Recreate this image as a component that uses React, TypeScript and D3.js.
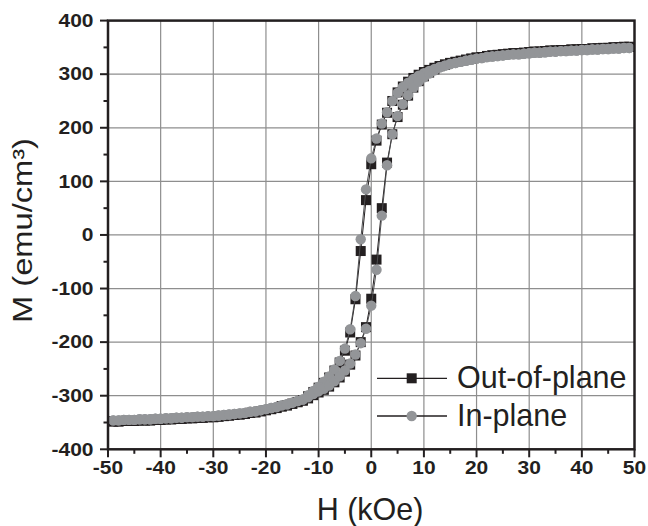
import React from 'react'
import * as d3 from 'd3'

// applied field H (kOe): negative tail, loop core, positive tail
const hNeg = [-49, -48, -47, -46, -45, -44, -43, -42, -41, -40, -39, -38, -37, -36, -35, -34, -33, -32, -31, -30, -29, -28, -27, -26, -25, -24, -23, -22, -21, -20, -19, -18, -17, -16, -15, -14, -13]
const hCore = [-12, -11, -10, -9, -8, -7, -6, -5, -4, -3, -2, -1, 0, 1, 2, 3, 4, 5, 6, 7, 8, 9, 10, 11, 12]
const hPos = [13, 14, 15, 16, 17, 18, 19, 20, 21, 22, 23, 24, 25, 26, 27, 28, 29, 30, 31, 32, 33, 34, 35, 36, 37, 38, 39, 40, 41, 42, 43, 44, 45, 46, 47, 48, 49]

// out-of-plane M (emu/cm3)
const oopTailNeg = [-348, -348, -347, -347, -347, -346, -346, -346, -345, -345, -344, -344, -343, -343, -342, -342, -341, -341, -340, -340, -339, -338, -337, -336, -335, -334, -332, -331, -329, -327, -325, -323, -320, -318, -315, -312, -309]
const oopDown = [-301, -293, -285, -276, -266, -253, -238, -216, -182, -120, -30, 65, 132, 176, 206, 228, 250, 266, 277, 286, 293, 299, 304, 308, 312]
const oopUp = [-305, -299, -294, -289, -283, -275, -266, -255, -242, -225, -200, -172, -119, -46, 50, 135, 188, 220, 243, 260, 275, 287, 296, 303, 309]
const oopTailPos = [315, 318, 321, 323, 325, 327, 329, 331, 332, 334, 335, 336, 337, 338, 339, 339, 340, 341, 342, 342, 343, 344, 344, 345, 345, 346, 346, 347, 347, 348, 348, 349, 349, 350, 350, 351, 351]

// in-plane M (emu/cm3)
const ipTailNeg = [-346, -346, -345, -345, -345, -344, -344, -344, -343, -343, -342, -342, -341, -341, -340, -340, -339, -339, -338, -338, -337, -336, -335, -334, -333, -332, -330, -329, -327, -325, -323, -321, -318, -316, -313, -310, -307]
const ipDown = [-299, -291, -283, -274, -264, -251, -235, -212, -176, -114, -8, 85, 143, 180, 208, 229, 250, 265, 276, 284, 291, 297, 302, 306, 310]
const ipUp = [-303, -297, -292, -287, -281, -273, -264, -253, -240, -223, -202, -175, -132, -65, 36, 130, 188, 222, 244, 261, 275, 286, 294, 301, 307]
const ipTailPos = [313, 316, 319, 321, 323, 325, 327, 329, 330, 332, 333, 334, 335, 336, 337, 337, 338, 339, 340, 340, 341, 342, 342, 343, 343, 344, 344, 345, 345, 346, 346, 347, 347, 348, 348, 349, 349]

const xTicks = [-50, -40, -30, -20, -10, 0, 10, 20, 30, 40, 50]
const yTicks = [-400, -300, -200, -100, 0, 100, 200, 300, 400]

const W = 648
const H = 526
const left = 108
const right = 634.5
const top = 20.6
const bottom = 449.3
const font = 'Liberation Sans, Arial, sans-serif'
const dark = '#231f20'
const grey = '#939598'

type Pt = [number, number]

const pair = (h: number[], m: number[]): Pt[] => h.map((v, i) => [v, m[i]] as Pt)

// full loop: down from +H saturation, then back up
const loop = (tn: number[], down: number[], up: number[], tp: number[]): Pt[] => [
    ...pair(hPos, tp).reverse(),
    ...pair(hCore, down).reverse(),
    ...pair(hNeg, tn).reverse(),
    ...pair(hNeg, tn),
    ...pair(hCore, up),
    ...pair(hPos, tp),
]

const oopLoop = loop(oopTailNeg, oopDown, oopUp, oopTailPos)
const ipLoop = loop(ipTailNeg, ipDown, ipUp, ipTailPos)

const App = () => {
    const x = d3.scaleLinear().domain([-50, 50]).range([left, right])
    const y = d3.scaleLinear().domain([-400, 400]).range([bottom, top])

    const line = d3.line<Pt>()
        .x(d => x(d[0]))
        .y(d => y(d[1]))

    const xMinor = d3.range(-45, 50, 10)
    const yMinor = d3.range(-350, 400, 100)

    return (
        <svg width={W} height={H} style={{position: 'absolute', left: 0, top: 0, background: '#fff'}}>
            <rect x={0} y={0} width={W} height={H} fill="#fff" />

            {/* grid */}
            <g stroke="#8e8e8e" strokeWidth={1.2}>
                {xTicks.slice(1, -1).map(t => (
                    <line key={'gx' + t} x1={x(t)} x2={x(t)} y1={top} y2={bottom} />
                ))}
                {yTicks.slice(1, -1).map(t => (
                    <line key={'gy' + t} x1={left} x2={right} y1={y(t)} y2={y(t)} />
                ))}
            </g>

            {/* out-of-plane */}
            <path d={line(oopLoop) || ''} fill="none" stroke={dark} strokeWidth={1} />
            {oopLoop.map((d, i) => (
                <rect key={'s' + i} x={x(d[0]) - 5} y={y(d[1]) - 5} width={10} height={10} fill={dark} />
            ))}

            {/* in-plane */}
            <path d={line(ipLoop) || ''} fill="none" stroke="#4d4d4f" strokeWidth={1} />
            {ipLoop.map((d, i) => (
                <circle key={'c' + i} cx={x(d[0])} cy={y(d[1])} r={5.2} fill={grey} />
            ))}

            {/* frame */}
            <rect x={left} y={top} width={right - left} height={bottom - top} fill="none" stroke={dark} strokeWidth={2.5} />

            {/* ticks */}
            <g stroke={dark} strokeWidth={2}>
                {xTicks.map(t => (
                    <line key={'tx' + t} x1={x(t)} x2={x(t)} y1={bottom} y2={bottom + 8} />
                ))}
                {xMinor.map(t => (
                    <line key={'mx' + t} x1={x(t)} x2={x(t)} y1={bottom} y2={bottom + 4.5} />
                ))}
                {yTicks.map(t => (
                    <line key={'ty' + t} x1={left - 8} x2={left} y1={y(t)} y2={y(t)} />
                ))}
                {yMinor.map(t => (
                    <line key={'my' + t} x1={left - 4.5} x2={left} y1={y(t)} y2={y(t)} />
                ))}
            </g>

            {/* tick labels */}
            <g fontFamily={font} fontWeight="bold" fontSize={17.5} fill={dark}>
                {xTicks.map(t => (
                    <text key={'lx' + t} transform={`translate(${x(t)},473.5) scale(1.2,1)`} textAnchor="middle">{t}</text>
                ))}
                {yTicks.map(t => (
                    <text key={'ly' + t} transform={`translate(93.5,${y(t) + 6.2}) scale(1.2,1)`} textAnchor="end">{t}</text>
                ))}
            </g>

            {/* axis titles */}
            <text x={370} y={520} textAnchor="middle" fontFamily={font} fontSize={30.5} fill={dark}>H (kOe)</text>
            <text transform="translate(32,230.5) rotate(-90)" textAnchor="middle" fontFamily={font} fontSize={28} fill={dark}
                textLength={185} lengthAdjust="spacingAndGlyphs">M (emu/cm³)</text>

            {/* legend */}
            <g>
                <line x1={377} x2={447} y1={378.3} y2={378.3} stroke={dark} strokeWidth={1.3} />
                <rect x={406.7} y={373.3} width={10} height={10} fill={dark} />
                <text x={457} y={388.3} fontFamily={font} fontSize={30.5} fill={dark}>Out-of-plane</text>
                <line x1={377} x2={447} y1={416} y2={416} stroke={dark} strokeWidth={1.3} />
                <circle cx={411.7} cy={416} r={5.2} fill={grey} />
                <text x={457} y={426} fontFamily={font} fontSize={30.5} fill={dark}>In-plane</text>
            </g>
        </svg>
    )
}

export default App
